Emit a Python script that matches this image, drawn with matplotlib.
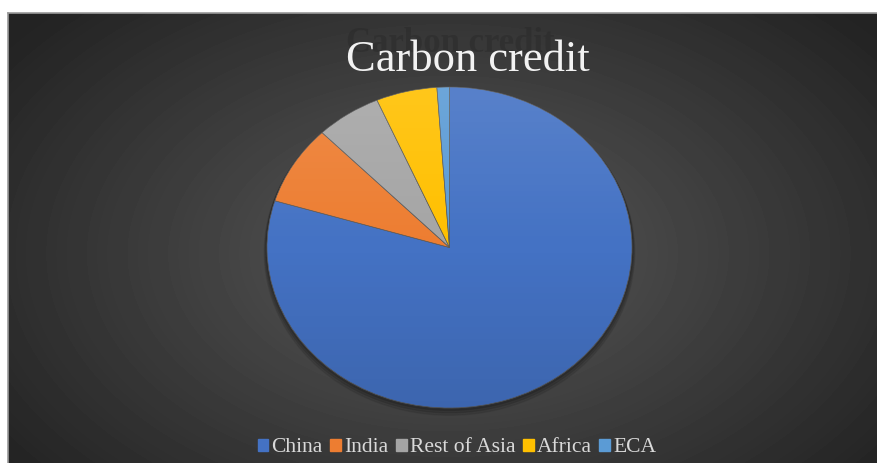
import numpy as np
import matplotlib
matplotlib.use("Agg")
import matplotlib.pyplot as plt
from matplotlib.patches import Rectangle, Ellipse

# data
regions = ["China", "India", "Rest of Asia", "Africa", "ECA"]
shares = [79.7, 8.0, 5.8, 5.4, 1.1]
colors = ["#4472C4", "#ED7D31", "#A5A5A5", "#FFC000", "#5B9BD5"]
title = "Carbon credit"

W, H = 877, 463
fig = plt.figure(figsize=(W / 100, H / 100), dpi=100)
fig.patch.set_facecolor("white")

# dark background panel with radial gradient
bg = fig.add_axes([8 / W, 0, 869 / W, 450 / H])
yy, xx = np.mgrid[0:450, 0:869]
d = np.sqrt(((xx - 440) / 520.0) ** 2 + ((yy - 240) / 330.0) ** 2)
shade = np.clip(0.35 - 0.2 * d, 0.14, 0.35)
bg.imshow(shade, cmap="gray", vmin=0, vmax=1, aspect="auto", extent=[0, 1, 0, 1])
bg.set_xlim(0, 1)
bg.set_ylim(0, 1)
bg.set_xticks([])
bg.set_yticks([])
for s in ["right", "bottom"]:
    bg.spines[s].set_visible(False)
for s in ["top", "left"]:
    bg.spines[s].set_color("#9a9a9a")
    bg.spines[s].set_linewidth(1.2)

# pie (elliptical, as in the original)
cx, cy, rx, ry = 449.5, 247.5, 182.5, 160.5
ax = fig.add_axes([(cx - rx) / W, (H - cy - ry) / H, 2 * rx / W, 2 * ry / H])
ax.set_aspect("auto")
# soft shadow under pie
for k, a in [(0.03, 0.08), (0.02, 0.1), (0.01, 0.12)]:
    sh = Ellipse((0.0, -k), 2 + k, 2 + k, color="black", alpha=a, zorder=0)
    sh.set_clip_on(False)
    ax.add_patch(sh)
wedges, _ = ax.pie(shares, colors=colors, startangle=90, counterclock=False,
                   radius=1, wedgeprops=dict(edgecolor="#5a5a5a", linewidth=0.5))
for w in wedges:
    w.set_zorder(1)
# vertical light-to-dark sheen over the pie
grad = np.linspace(1, 0, 200)
sheen = np.zeros((200, 1, 4))
sheen[:, 0, :3] = np.where(grad > 0.5, 1.0, 0.0)[:, None]
sheen[:, 0, 3] = np.abs(grad - 0.5) * 0.22
im = ax.imshow(sheen, extent=[-1, 1, -1, 1], aspect="auto", zorder=2)
clip = Ellipse((0, 0), 2, 2, transform=ax.transData)
im.set_clip_path(clip)
ax.set_xlim(-1, 1)
ax.set_ylim(-1, 1)
ax.axis("off")

# title with faint shadow copy behind it
fig.text(450 / W, 1 - 43 / H, title, ha="center", va="center",
         fontsize=25, family="Liberation Serif", fontweight="bold",
         color="#262626", alpha=0.4)
fig.text(468 / W, 1 - 60 / H, title, ha="center", va="center", fontsize=32,
         family="Liberation Serif", color="#f2f2f2")

# legend
handles = [Rectangle((0, 0), 1, 1, color=c) for c in colors]
leg = fig.legend(handles, regions, loc="center", bbox_to_anchor=(457 / W, 1 - 448 / H),
                 ncol=5, frameon=False, handlelength=0.5, handleheight=0.5,
                 handletextpad=0.15, columnspacing=0.35,
                 prop=dict(family="Liberation Serif", size=15.5))
for t in leg.get_texts():
    t.set_color("#d9d9d9")

fig.savefig("out.png", dpi=100, facecolor="white")
